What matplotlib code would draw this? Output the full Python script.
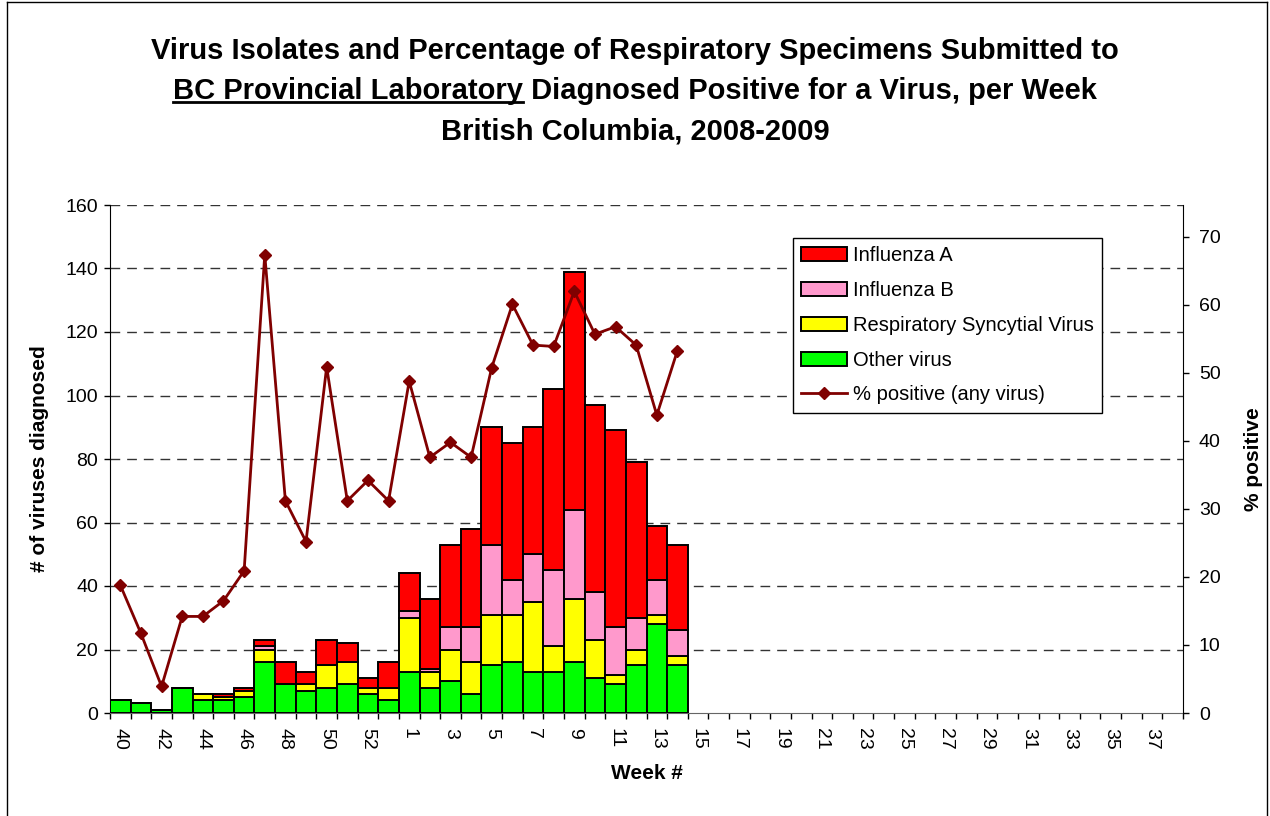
import matplotlib
matplotlib.use("Agg")
import matplotlib.pyplot as plt
import numpy as np
from matplotlib.lines import Line2D

plt.rcParams["font.family"] = ["Liberation Sans", "DejaVu Sans"]

# weeks of the 2008-2009 season (40..53, then 1..38)
weeks = [str(w) for w in range(40, 54)] + [str(w) for w in range(1, 39)]

# counts per week, weeks 40 .. 14 (rest of season empty)
other_virus = [4, 3, 1, 8, 4, 4, 5, 16, 9, 7, 8, 9, 6, 4,
               13, 8, 10, 6, 15, 16, 13, 13, 16, 11, 9, 15, 28, 15]
rsv = [0, 0, 0, 0, 2, 1, 2, 4, 0, 2, 7, 7, 2, 4,
       17, 5, 10, 10, 16, 15, 22, 8, 20, 12, 3, 5, 3, 3]
flu_b = [0, 0, 0, 0, 0, 0, 0, 1, 0, 0, 0, 0, 0, 0,
         2, 1, 7, 11, 22, 11, 15, 24, 28, 15, 15, 10, 11, 8]
flu_a = [0, 0, 0, 0, 0, 1, 1, 2, 7, 4, 8, 6, 3, 8,
         12, 22, 26, 31, 37, 43, 40, 57, 75, 59, 62, 49, 17, 27]
pct_positive = [18.8, 11.7, 3.9, 14.2, 14.2, 16.5, 20.9, 67.4, 31.2, 25.2, 50.9, 31.2, 34.2, 31.2,
                48.8, 37.6, 39.8, 37.6, 50.8, 60.1, 54.1, 53.9, 62.0, 55.7, 56.8, 54.1, 43.8, 53.3]

fig = plt.figure(figsize=(12.7, 8.16), dpi=100)
ax = fig.add_axes([110 / 1270, 1 - 713 / 816, 1073 / 1270, 508 / 816])
ax2 = ax.twinx()

n = len(other_virus)
x = np.arange(n)
bot = np.zeros(n)
series = [
    (other_virus, "#00FF00", "Other virus"),
    (rsv, "#FFFF00", "Respiratory Syncytial Virus"),
    (flu_b, "#FF99CC", "Influenza B"),
    (flu_a, "#FF0000", "Influenza A"),
]
handles = {}
for vals, col, lab in series:
    v = np.array(vals, dtype=float)
    b = ax.bar(x, v, bottom=bot, width=1.0, color=col, edgecolor="black",
               linewidth=1.4, label=lab, zorder=3)
    handles[lab] = b
    bot += v

ln, = ax2.plot(x, pct_positive, color="#800000", marker="D", markersize=6.5,
               linewidth=2, label="% positive (any virus)", zorder=4)

# axes ranges
ax.set_xlim(-0.5, len(weeks) - 0.5)
ax.set_ylim(0, 160)
ax2.set_ylim(0, 74.7)
ax.set_yticks(np.arange(0, 161, 20))
ax2.set_yticks(np.arange(0, 71, 10))

# gridlines
for yv in np.arange(20, 161, 20):
    ax.axhline(yv, color="#333333", linestyle=(0, (7, 5)), linewidth=1, zorder=1)

# x ticks: marks at category boundaries, labels every other week
ax.set_xticks(np.arange(len(weeks) + 1) - 0.5)
ax.set_xticklabels([])
ax.tick_params(axis="x", which="major", length=4.5, direction="out", width=1)
lab_pos = np.arange(0, len(weeks), 2)
ax.set_xticks(lab_pos, minor=True)
ax.set_xticklabels([weeks[i] for i in lab_pos], minor=True, rotation=270, fontsize=14)
ax.tick_params(axis="x", which="minor", length=0, pad=11)

ax.tick_params(axis="y", length=4.5, labelsize=14, width=1, pad=4)
ax2.tick_params(axis="y", length=4.5, labelsize=14, width=1, pad=7)

for a in (ax, ax2):
    a.spines["top"].set_visible(False)
ax.spines["right"].set_visible(False)
ax2.spines["left"].set_visible(False)
ax2.spines["bottom"].set_visible(False)
ax.spines["bottom"].set_color("#666666")

ax.set_ylabel("# of viruses diagnosed", fontsize=15, fontweight="bold", labelpad=12)
ax2.set_ylabel("% positive", fontsize=15, fontweight="bold", labelpad=17)
ax.set_xlabel("Week #", fontsize=15, fontweight="bold", labelpad=10)

leg = ax2.legend(
    [handles["Influenza A"], handles["Influenza B"], handles["Respiratory Syncytial Virus"],
     handles["Other virus"], ln],
    ["Influenza A", "Influenza B", "Respiratory Syncytial Virus", "Other virus",
     "% positive (any virus)"],
    loc="upper left", bbox_to_anchor=(0.6365, 0.935), borderaxespad=0,
    fontsize=14.5, fancybox=False, framealpha=1, edgecolor="black",
    handlelength=2.24, handleheight=0.7, labelspacing=0.78, handletextpad=0.3,
    borderpad=0.42,
)
leg.get_frame().set_linewidth(1)
leg.set_zorder(10)

# title
tfs = 21
tkw = dict(ha="center", va="baseline", fontsize=tfs, fontweight="bold")
fig.text(0.5, 1 - 59 / 816, "Virus Isolates and Percentage of Respiratory Specimens Submitted to", **tkw)
line2 = fig.text(0.5, 1 - 99 / 816, "BC Provincial Laboratory Diagnosed Positive for a Virus, per Week", **tkw)
fig.text(0.5, 1 - 139 / 816, "British Columbia, 2008-2009", **tkw)

renderer = fig.canvas.get_renderer()
bb = line2.get_window_extent(renderer)
tmp = fig.text(0, 0, "BC Provincial Laboratory", fontsize=tfs, fontweight="bold")
w_pre = tmp.get_window_extent(renderer).width
tmp.remove()
uy = 816 - 102
fig.add_artist(Line2D([bb.x0 / 1270, (bb.x0 + w_pre) / 1270], [uy / 816, uy / 816],
                      transform=fig.transFigure, color="black", linewidth=2))

# chart border
for xs, ys in [([7, 7], [0, 814]), ([7, 1267], [814, 814]), ([1267, 1267], [814, 0])]:
    fig.add_artist(Line2D([v / 1270 for v in xs], [v / 816 for v in ys],
                          transform=fig.transFigure, color="black", linewidth=1))

fig.savefig("out.png", dpi=100)
